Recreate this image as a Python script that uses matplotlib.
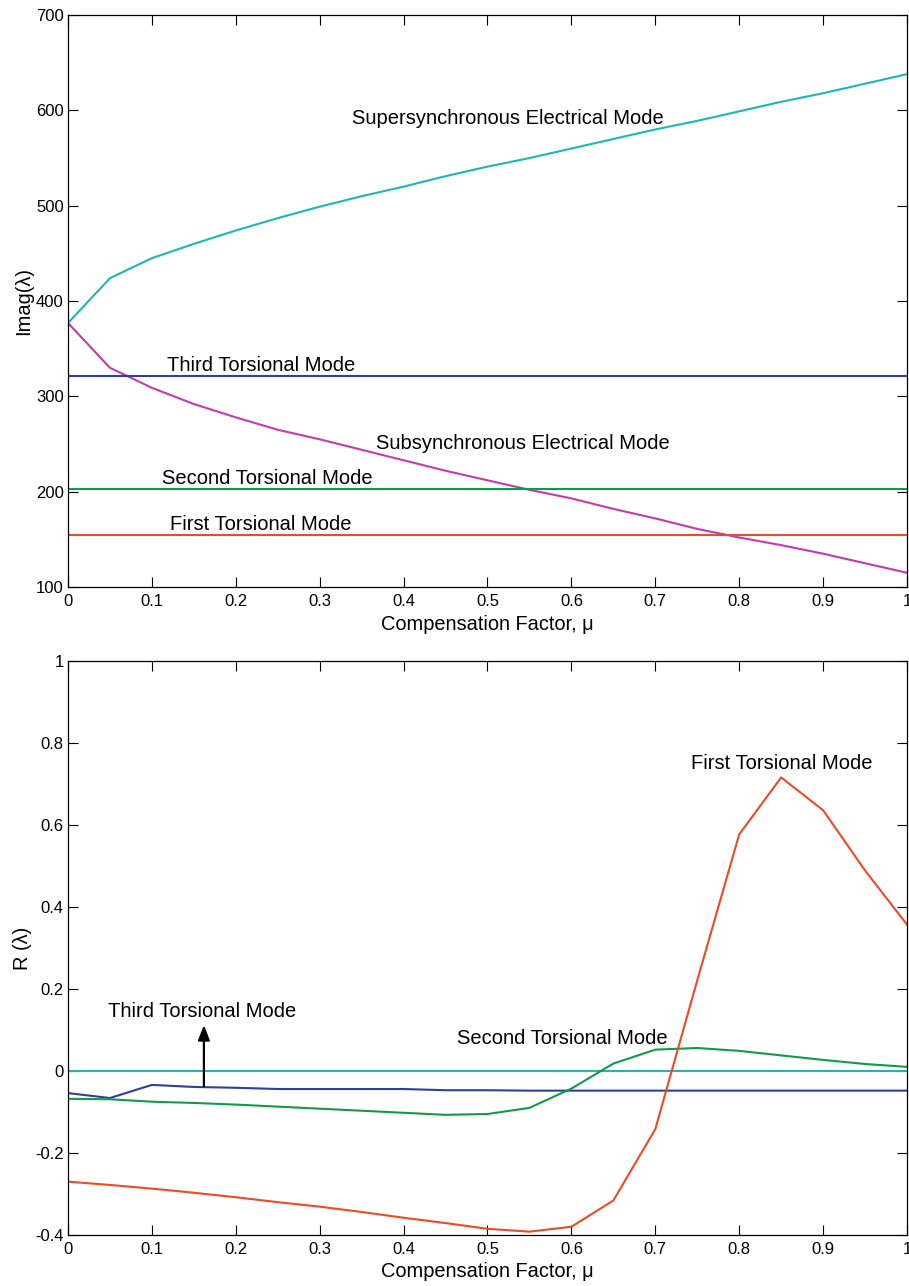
import matplotlib
matplotlib.use("Agg")
import matplotlib.pyplot as plt

# Compensation factor (x axis of both panels)
mu = [0.0, 0.05, 0.1, 0.15, 0.2, 0.25, 0.3, 0.35, 0.4, 0.45, 0.5,
      0.55, 0.6, 0.65, 0.7, 0.75, 0.8, 0.85, 0.9, 0.95, 1.0]

# Top panel: imaginary part of eigenvalues
super_elec_imag = [377, 424, 445, 460, 474, 487, 499, 510, 520, 531, 541,
                   550, 560, 570, 580, 589, 599, 609, 618, 628, 638]
sub_elec_imag = [377, 330, 309, 292, 278, 265, 255, 244, 233, 222, 212,
                 202, 193, 182, 172, 161, 152, 144, 135, 125, 115]
third_tors_imag = 321
second_tors_imag = 203
first_tors_imag = 155

# Bottom panel: real part of eigenvalues
first_tors_real = [-0.270, -0.278, -0.287, -0.297, -0.308, -0.320, -0.331, -0.344, -0.358, -0.371, -0.385,
                   -0.392, -0.380, -0.316, -0.142, 0.221, 0.577, 0.716, 0.636, 0.489, 0.357]
second_tors_real = [-0.068, -0.069, -0.075, -0.078, -0.082, -0.087, -0.092, -0.097, -0.102, -0.107, -0.105,
                    -0.090, -0.043, 0.018, 0.052, 0.056, 0.049, 0.038, 0.027, 0.017, 0.010]
third_tors_real = [-0.054, -0.066, -0.034, -0.039, -0.041, -0.044, -0.044, -0.044, -0.044, -0.047, -0.047,
                   -0.048, -0.048, -0.048, -0.048, -0.048, -0.048, -0.048, -0.048, -0.048, -0.048]
elec_real = 0.0

xticks = [0, 0.1, 0.2, 0.3, 0.4, 0.5, 0.6, 0.7, 0.8, 0.9, 1]
xticklabels = ["0", "0.1", "0.2", "0.3", "0.4", "0.5", "0.6", "0.7", "0.8", "0.9", "1"]

# colours
cyan = "#1cb8b4"
magenta = "#c83aa8"
blue = "#2f3f9c"
green = "#129a4a"
red = "#ee4a24"

plt.rcParams["font.family"] = ["Liberation Sans", "DejaVu Sans"]
plt.rcParams["axes.unicode_minus"] = False
lw = 1.5
fs_tick = 12
fs_label = 14.4
fs_text = 14.5

fig = plt.figure(figsize=(9.09, 12.86), dpi=100)
ax1 = fig.add_axes([0.0748, 0.5435, 0.923, 0.4448])
ax2 = fig.add_axes([0.0748, 0.0397, 0.923, 0.4463])


def style(ax):
    ax.tick_params(direction="in", top=True, right=True, length=7, width=0.8,
                   labelsize=fs_tick, colors="black")
    ax.tick_params(axis="x", pad=5)
    ax.tick_params(axis="y", pad=3)
    for s in ax.spines.values():
        s.set_linewidth(0.9)
    ax.set_xlim(0, 1)
    ax.set_xticks(xticks)
    ax.set_xticklabels(xticklabels)
    ax.set_xlabel("Compensation Factor, μ", fontsize=fs_label, labelpad=4)


# ---- top panel
ax1.plot(mu, super_elec_imag, color=cyan, lw=lw)
ax1.plot(mu, sub_elec_imag, color=magenta, lw=lw)
ax1.plot([mu[0], mu[-1]], [third_tors_imag] * 2, color=blue, lw=lw)
ax1.plot([mu[0], mu[-1]], [second_tors_imag] * 2, color=green, lw=lw)
ax1.plot([mu[0], mu[-1]], [first_tors_imag] * 2, color=red, lw=lw)
ax1.set_ylim(100, 700)
ax1.set_yticks([100, 200, 300, 400, 500, 600, 700])
ax1.set_ylabel("Imag(λ)", fontsize=fs_label, labelpad=2)
style(ax1)

ax1.text(0.338, 591, "Supersynchronous Electrical Mode", fontsize=fs_text, va="center")
ax1.text(0.118, 332, "Third Torsional Mode", fontsize=fs_text, va="center")
ax1.text(0.367, 251, "Subsynchronous Electrical Mode", fontsize=fs_text, va="center")
ax1.text(0.112, 214, "Second Torsional Mode", fontsize=fs_text, va="center")
ax1.text(0.122, 166, "First Torsional Mode", fontsize=fs_text, va="center")

# ---- bottom panel
ax2.plot([mu[0], mu[-1]], [elec_real] * 2, color=cyan, lw=lw)
ax2.plot(mu, third_tors_real, color=blue, lw=lw)
ax2.plot(mu, second_tors_real, color=green, lw=lw)
ax2.plot(mu, first_tors_real, color=red, lw=lw)
ax2.set_ylim(-0.4, 1)
ax2.set_yticks([-0.4, -0.2, 0, 0.2, 0.4, 0.6, 0.8, 1])
ax2.set_yticklabels(["-0.4", "-0.2", "0", "0.2", "0.4", "0.6", "0.8", "1"])
ax2.set_ylabel("R (λ)", fontsize=fs_label, labelpad=2)
style(ax2)

ax2.text(0.048, 0.144, "Third Torsional Mode", fontsize=fs_text, va="center")
ax2.text(0.464, 0.080, "Second Torsional Mode", fontsize=fs_text, va="center")
ax2.text(0.742, 0.749, "First Torsional Mode", fontsize=fs_text, va="center")
ax2.annotate("", xy=(0.162, 0.112), xytext=(0.162, -0.038),
             arrowprops=dict(arrowstyle="-|>,head_length=0.9,head_width=0.35",
                             color="black", lw=1.6, shrinkA=0, shrinkB=0))

fig.savefig("out.png", dpi=100)
